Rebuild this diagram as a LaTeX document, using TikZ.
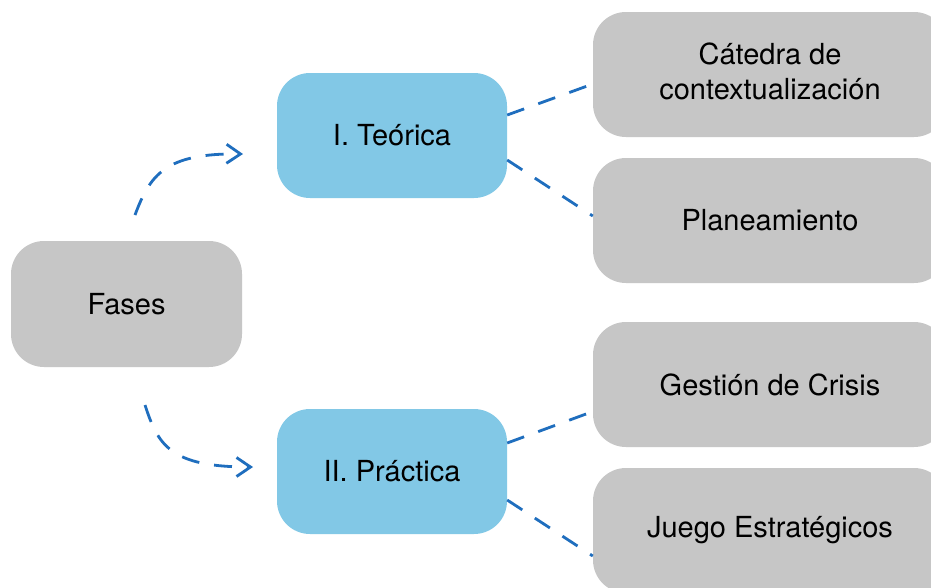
\documentclass[tikz,border=0pt]{standalone}
\usepackage{fontspec}
\setmainfont{TeX Gyre Heros}
\usetikzlibrary{arrows.meta,calc}
\definecolor{boxgray}{HTML}{C6C6C6}
\definecolor{boxblue}{HTML}{82C8E6}
\definecolor{linkblue}{HTML}{1F6EBE}
\begin{document}
\begin{tikzpicture}[x=1pt,y=-1pt,
  box/.style={rounded corners=33pt, minimum width=230pt, minimum height=125pt, inner sep=0pt, align=center, font=\fontsize{29}{35}\selectfont, text=black},
  graybox/.style={box, fill=boxgray},
  bluebox/.style={box, fill=boxblue},
  widebox/.style={minimum width=354pt},
  link/.style={draw=linkblue, line width=2.8pt, dash pattern=on 18pt off 15pt},
  arr/.style={link, -{Straight Barb[length=14pt,width=19pt,line width=2.8pt]}}
]
\clip (0,0) rectangle (931,587);
\fill[white] (0,0) rectangle (931,587);
\node[graybox, minimum width=231pt, minimum height=126pt] (fases) at (126.5,304) {Fases};
\node[bluebox] (teo) at (392,135.5) {I. Teórica};
\node[bluebox] (pra) at (392,471.5) {II. Práctica};
\node[graybox, widebox] (cat) at (770,74.5) {\raisebox{4pt}{\begin{tabular}{@{}c@{}}Cátedra de\\[-0pt]contextualización\end{tabular}}};
\node[graybox, widebox] (plan) at (770,220.5) {Planeamiento};
\node[graybox, widebox] (ges) at (770,384.5) {Gestión de Crisis};
\node[graybox, widebox] (jue) at (770,530.5) {Juego Estratégicos};

\draw[link] ([yshift=20.5pt]teo.east) -- ([yshift=-9.5pt]cat.west);
\draw[link] ([yshift=-24.5pt]teo.east) -- ([yshift=4.5pt]plan.west);
\draw[link] ([yshift=28.5pt]pra.east) -- ([yshift=-27pt]ges.west);
\draw[link] ([yshift=-28.5pt]pra.east) -- ([yshift=-25.5pt]jue.west);

\coordinate (s1) at (135,215);
\coordinate (e1) at (243,154);
\coordinate (s2) at (145,405);
\coordinate (e2) at (253,467);
\draw[arr] (s1) .. controls (150,175) and (165,153) .. (e1);
\draw[arr] (s2) .. controls (158,445) and (170,467) .. (e2);
\end{tikzpicture}
\end{document}
